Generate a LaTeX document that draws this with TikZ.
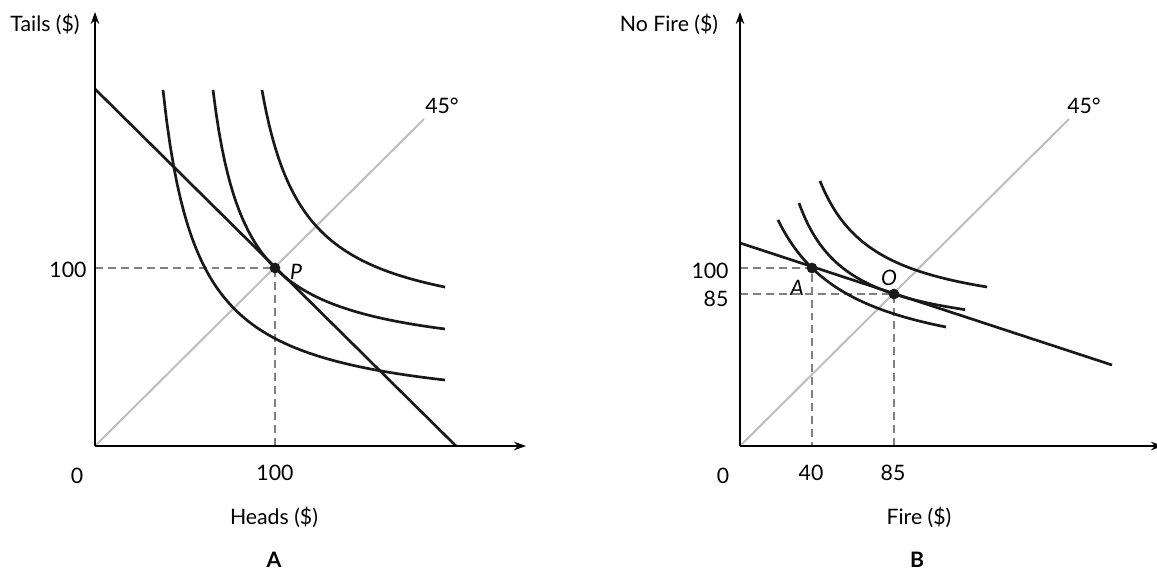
\documentclass[tikz,border=0pt]{standalone}
\usepackage{fontspec}
\setmainfont{Lato}
\usetikzlibrary{arrows.meta}

\tikzset{
  axis/.style={line width=0.8pt,-{Stealth[length=6.5pt,width=4.6pt]}},
  curve/.style={line width=1.45pt,black!90},
  diag/.style={line width=1.1pt,black!25},
  guide/.style={line width=0.6pt,black!50,dash pattern=on 4.3pt off 2.7pt},
  dot/.style={circle,fill=black!90,inner sep=0pt,minimum size=5.8pt}
}

\begin{document}
\begin{tikzpicture}[x=0.19mm,y=-0.19mm,font=\fontsize{11.5}{13}\selectfont]
  \useasboundingbox (0,0) rectangle (1157,573);

  % panel A
  \coordinate (oA) at (95,446);
  \coordinate (yA) at (95,12);
  \coordinate (xA) at (526,446);
  \coordinate (P) at (275,268);
  \draw[guide] (oA |- P) -- (P) -- (P |- oA);
  \draw[diag] (oA) -- (424,119);
  \node (degA) at (442,106) {45°};
  \draw[curve] plot[domain=34.9:316.9,samples=80,variable=\s] ({128.1+\s},{415.9-11374/\s});
  \draw[curve] plot[domain=33.1:265.1,samples=80,variable=\s] ({179.9+\s},{363.1-9044/\s});
  \draw[curve] plot[domain=42.5:225.5,samples=80,variable=\s] ({219.5+\s},{332.8-10319/\s});
  \draw[curve] (95,89) -- (456,446);
  \draw[axis] (oA) -- (yA);
  \draw[axis] (oA) -- (xA);
  \node[dot] (Pdot) at (P) {};
  \node[font=\fontsize{11.5}{13}\selectfont\itshape] (Plab) at (296,272) {P};
  \node (tails) at (45,24) {Tails (\$)};
  \node (zeroA) at (77,476) {0};
  \node (hundA) at (275,473) {100};
  \node (tickA) at (68,270) {100};
  \node (heads) at (274,517) {Heads (\$)};
  \node[font=\fontsize{11.5}{13}\selectfont\bfseries,inner sep=1pt] (titleA) at (274,560) {A};

  % panel B
  \coordinate (oB) at (740,446);
  \coordinate (yB) at (740,12);
  \coordinate (xB) at (1163,446);
  \coordinate (A) at (812,268);
  \coordinate (Q) at (894,294);
  \draw[guide] (oB |- A) -- (A) -- (A |- oB);
  \draw[guide] (oB |- Q) -- (Q) -- (Q |- oB);
  \draw[diag] (oB) -- (1069,119);
  \node (degB) at (1084,106) {45°};
  \draw[curve] plot[domain=76.1:244.1,samples=80,variable=\s] ({701.9+\s},{375.5-11836/\s});
  \draw[curve] plot[domain=49.5:215.5,samples=80,variable=\s] ({749.5+\s},{341.4-6849/\s});
  \draw[curve] plot[domain=57.1:224.1,samples=80,variable=\s] ({762.9+\s},{323.2-8120/\s});
  \draw[curve] (740,243) -- (1112,365);
  \draw[axis] (oB) -- (yB);
  \draw[axis] (oB) -- (xB);
  \node[dot] (Adot) at (A) {};
  \node[dot] (Qdot) at (Q) {};
  \node[font=\fontsize{11.5}{13}\selectfont\itshape] (Alab) at (797,288) {A};
  \node[font=\fontsize{11.5}{13}\selectfont\itshape] (Qlab) at (889,278) {O};
  \node (nofire) at (669,24) {No Fire (\$)};
  \node (zeroB) at (723,476) {0};
  \node (fortyB) at (811,473) {40};
  \node (eightyB) at (893,473) {85};
  \node (hundB) at (710,271) {100};
  \node (tickB) at (716,299) {85};
  \node (fire) at (919,517) {Fire (\$)};
  \node[font=\fontsize{11.5}{13}\selectfont\bfseries,inner sep=1pt] (titleB) at (917,560) {B};
\end{tikzpicture}
\end{document}
